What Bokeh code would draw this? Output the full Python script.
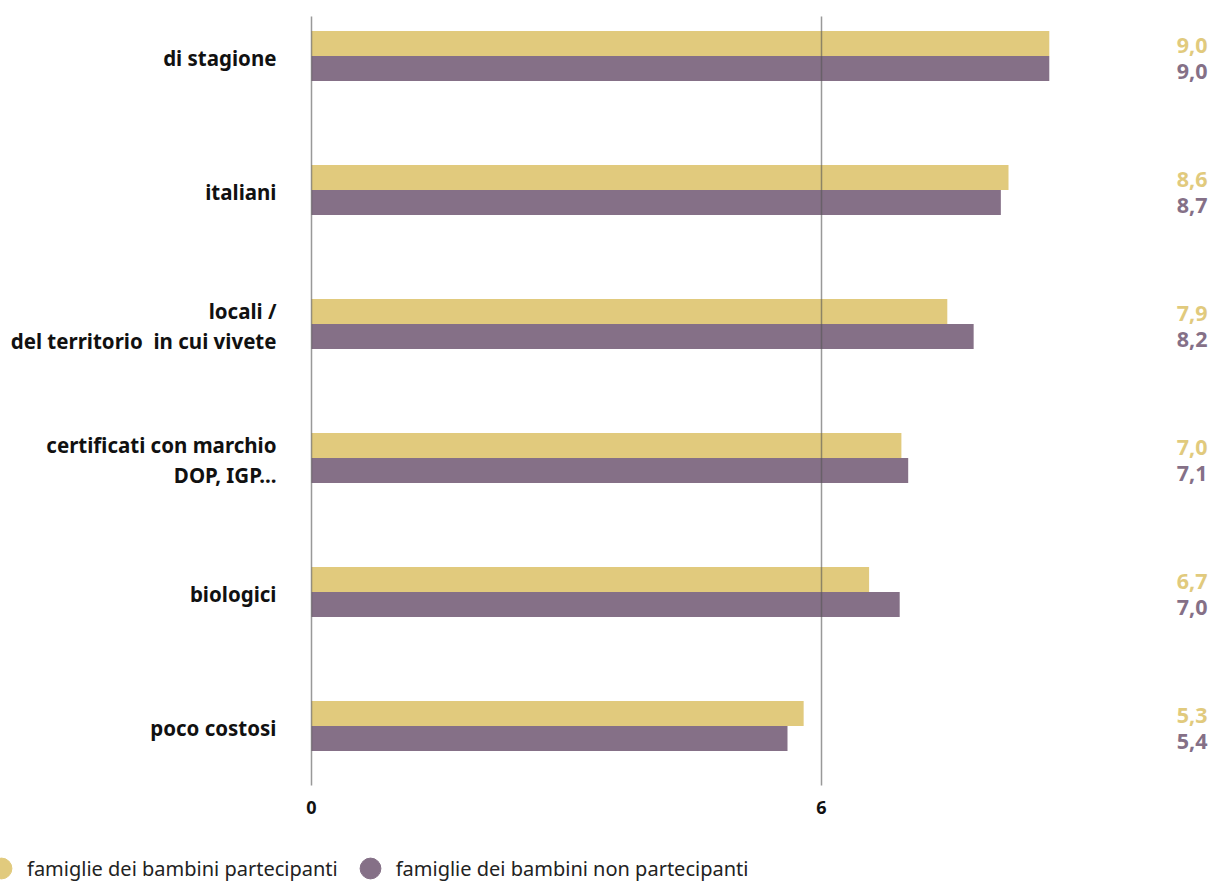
from bokeh.plotting import figure
from bokeh.models import ColumnDataSource, Range1d, Legend, LegendItem
from bokeh.embed import file_html
from bokeh.resources import INLINE
from bokeh.core.properties import value

# ---- data ----
categories = [
    "di stagione",
    "italiani",
    "locali /\ndel territorio \u00a0in cui vivete",
    "certificati con marchio\nDOP, IGP...",
    "biologici",
    "poco costosi",
]
partecipanti = [8.68, 8.20, 7.48, 6.94, 6.56, 5.79]
non_partecipanti = [8.68, 8.11, 7.79, 7.02, 6.92, 5.60]
label_partecipanti = ["9,0", "8,6", "7,9", "7,0", "6,7", "5,3"]
label_non_partecipanti = ["9,0", "8,7", "8,2", "7,1", "7,0", "5,4"]
x_ticks = [0, 6]
x_tick_labels = ["0", "6"]
series_names = ["famiglie dei bambini partecipanti", "famiglie dei bambini non partecipanti"]
colors = ["#E1CA7D", "#857087"]

# ---- layout (pixel geometry of the canvas) ----
W, H = 1213, 881
FONT = "Noto Sans"
X0_PX, PX_PER_UNIT = 311.0, 85.0      # where value 0 sits, pixels per unit
ROW_PX, TOP_ROW_PX = 134.0, 55.5      # row spacing, centre of first row
n = len(categories)
pos = [n - 1 - i for i in range(n)]


def xd(px):
    return (px - X0_PX) / PX_PER_UNIT


def yd(py):
    return (n - 1) - (py - TOP_ROW_PX) / ROW_PX


BAR_H = 25.0 / ROW_PX
GRID_TOP, GRID_BOTTOM = yd(16), yd(785)

src = ColumnDataSource(dict(
    y=pos,
    y_a=[q + BAR_H / 2 for q in pos],
    y_b=[q - BAR_H / 2 for q in pos],
    a=partecipanti, b=non_partecipanti,
    la=label_partecipanti, lb=label_non_partecipanti,
    cat=categories,
    xl=[xd(1207)] * n,
    xc=[xd(276)] * n,
))
tick_src = ColumnDataSource(dict(
    x=x_ticks, lab=x_tick_labels,
    y0=[GRID_BOTTOM] * len(x_ticks), y1=[GRID_TOP] * len(x_ticks),
    yl=[yd(807)] * len(x_ticks),
))

p = figure(width=W, height=H,
           x_range=Range1d(xd(0), xd(W)), y_range=Range1d(yd(H), yd(0)),
           x_axis_location=None, y_axis_location=None,
           output_backend="svg", toolbar_location=None,
           min_border=0)
p.outline_line_color = None
p.grid.visible = False
p.background_fill_color = "white"
p.border_fill_color = "white"

# bars
p.hbar(y="y_a", right="a", left=0, height=BAR_H, source=src, color=colors[0], line_color=None)
p.hbar(y="y_b", right="b", left=0, height=BAR_H, source=src, color=colors[1], line_color=None)

# vertical reference lines (drawn on top of bars)
p.segment(x0="x", x1="x", y0="y0", y1="y1", source=tick_src,
          line_color="#555555", line_alpha=0.6, line_width=1.5)

# x tick labels
p.text(x="x", y="yl", text="lab", source=tick_src, text_align="center", text_baseline="middle",
       text_color="#111111", text_font=value(FONT), text_font_style="bold", text_font_size="18px")

# category labels
p.text(x="xc", y="y", text="cat", source=src, text_align="right", text_baseline="middle",
       text_color="#111111", text_font=value(FONT), text_font_style="bold",
       text_font_size="20.5px", text_line_height=1.04, y_offset=2)

# value labels
p.text(x="xl", y="y_a", text="la", source=src, text_align="right", text_baseline="middle",
       text_color=colors[0], text_font=value(FONT), text_font_style="bold",
       text_font_size="21.5px", y_offset=2)
p.text(x="xl", y="y_b", text="lb", source=src, text_align="right", text_baseline="middle",
       text_color=colors[1], text_font=value(FONT), text_font_style="bold",
       text_font_size="21.5px", y_offset=3)

# legend (proxy renderers hold no visible point)
nan = float("nan")
ra = p.scatter(x=[nan], y=[nan], marker="circle", color=colors[0])
rb = p.scatter(x=[nan], y=[nan], marker="circle", color=colors[1])
legend = Legend(
    items=[LegendItem(label=series_names[0], renderers=[ra]),
           LegendItem(label=series_names[1], renderers=[rb])],
    location=(-25, -13), orientation="horizontal",
    glyph_width=52, glyph_height=52, label_standoff=0, spacing=6,
    padding=0, margin=0, border_line_color=None, background_fill_alpha=0,
    label_text_font=FONT, label_text_font_size="20px", label_text_color="#222222",
)
p.add_layout(legend)

open("out.html", "w").write(file_html(p, INLINE))
